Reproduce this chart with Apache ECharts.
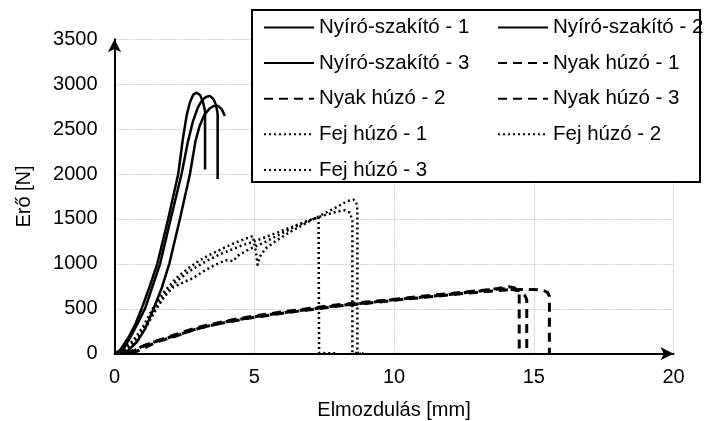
<!DOCTYPE html>
<html>
<head>
<meta charset="utf-8">
<script src="https://cdn.jsdelivr.net/npm/echarts@6/dist/echarts.min.js"></script>
<style>
  html, body { margin: 0; padding: 0; background: #fff; }
  #chart { width: 705px; height: 421px; }
</style>
</head>
<body>
<div id="chart"></div>
<script>
  // tengelyek
  const xTicks = [0, 5, 10, 15, 20];
  const yTicks = [0, 500, 1000, 1500, 2000, 2500, 3000, 3500];

  // Nyíró-szakító [mm, N]
  const nyiro1 = [[0, 0], [0.2, 40], [0.5, 180], [0.75, 330], [0.97, 500], [1.25, 740], [1.53, 1000], [1.92, 1500], [2.28, 2000], [2.45, 2400], [2.58, 2650], [2.7, 2800], [2.82, 2885], [2.94, 2906], [3.06, 2880], [3.16, 2810], [3.22, 2730], [3.24, 2700], [3.24, 2050]];
  const nyiro2 = [[0, 0], [0.3, 40], [0.6, 200], [0.85, 350], [1.09, 500], [1.35, 740], [1.63, 1000], [2.01, 1500], [2.4, 2000], [2.62, 2350], [2.8, 2580], [2.98, 2740], [3.15, 2830], [3.3, 2862], [3.42, 2868], [3.54, 2835], [3.63, 2770], [3.68, 2690], [3.69, 2650], [3.69, 1946]];
  const nyiro3 = [[0.2, 0], [0.5, 40], [0.8, 130], [1.1, 280], [1.4, 500], [1.7, 740], [1.96, 1000], [2.34, 1500], [2.7, 2000], [2.9, 2370], [3.05, 2540], [3.22, 2660], [3.4, 2730], [3.55, 2758], [3.71, 2757], [3.84, 2720], [3.95, 2645]];

  // Nyak húzó
  const nyak1 = [[0.4, 0], [0.7, 40], [1.2, 110], [2.0, 185], [3.0, 280], [4.0, 355], [5.0, 410], [6.0, 455], [7.0, 495], [8.0, 535], [9.0, 565], [10.0, 600], [11.0, 630], [12.0, 660], [13.0, 695], [13.7, 725], [14.1, 745], [14.3, 735], [14.45, 700], [14.48, 660], [14.48, 0]];
  const nyak2 = [[0.5, 0], [0.8, 50], [1.3, 120], [2.0, 195], [3.0, 295], [4.0, 365], [5.0, 420], [6.0, 465], [7.0, 505], [8.0, 545], [9.0, 575], [10.0, 605], [11.0, 640], [12.0, 670], [13.0, 700], [14.0, 725], [14.5, 700], [14.7, 640], [14.75, 600], [14.75, 30]];
  const nyak3 = [[0.6, 0], [0.9, 40], [1.5, 130], [2.2, 195], [3.0, 285], [4.0, 350], [5.0, 405], [6.0, 450], [7.0, 490], [8.0, 530], [9.0, 560], [10.0, 595], [11.0, 625], [12.0, 655], [13.0, 685], [14.0, 710], [14.5, 715], [15.0, 715], [15.35, 705], [15.5, 680], [15.56, 640], [15.56, 0]];

  // Fej húzó
  const fej1 = [[0, 0], [0.4, 40], [0.8, 150], [1.1, 280], [1.5, 500], [1.8, 640], [2.1, 740], [2.5, 800], [2.8, 840], [3.2, 920], [3.6, 990], [4.0, 1040], [4.25, 1030], [4.4, 1090], [4.8, 1160], [5.3, 1230], [5.8, 1310], [6.3, 1390], [6.8, 1460], [7.3, 1525], [7.32, 10], [7.6, 5], [7.9, 5]];
  const fej2 = [[0, 0], [0.3, 30], [0.7, 130], [1.0, 250], [1.4, 470], [1.8, 660], [2.2, 800], [2.6, 900], [3.0, 980], [3.4, 1050], [3.8, 1110], [4.2, 1160], [4.6, 1210], [5.0, 1250], [5.5, 1310], [6.0, 1370], [6.5, 1430], [7.0, 1490], [7.5, 1540], [8.0, 1585], [8.25, 1596], [8.42, 1570], [8.51, 1480], [8.51, 10], [8.8, 5]];
  const fej3 = [[0, 0], [0.3, 40], [0.7, 160], [1.0, 290], [1.4, 520], [1.8, 700], [2.2, 840], [2.6, 940], [3.0, 1030], [3.4, 1100], [3.8, 1160], [4.2, 1220], [4.6, 1270], [4.95, 1310], [5.05, 1150], [5.12, 990], [5.2, 1080], [5.4, 1170], [5.8, 1260], [6.2, 1340], [6.6, 1410], [7.0, 1480], [7.5, 1560], [8.0, 1640], [8.3, 1695], [8.55, 1715], [8.65, 1690], [8.69, 1600], [8.69, 10], [8.9, 5]];

  const font = 'Liberation Sans, Arial, sans-serif';

  function line(name, data, type, width) {
    return {
      name: name,
      type: 'line',
      data: data,
      symbol: 'none',
      smooth: false,
      lineStyle: { color: '#000', width: width, type: type, join: 'round' },
      itemStyle: { color: '#000' }
    };
  }

  const series = [
    line('Nyíró-szakító - 1', nyiro1, 'solid', 2.5),
    line('Nyíró-szakító - 2', nyiro2, 'solid', 2.5),
    line('Nyíró-szakító - 3', nyiro3, 'solid', 2.5),
    line('Nyak húzó - 1', nyak1, [9, 6], 3),
    line('Nyak húzó - 2', nyak2, [9, 6], 3),
    line('Nyak húzó - 3', nyak3, [9, 6], 3),
    line('Fej húzó - 1', fej1, [2, 3], 2.5),
    line('Fej húzó - 2', fej2, [2, 3], 2.5),
    line('Fej húzó - 3', fej3, [2, 3], 2.5)
  ];

  // jelmagyarázat: két oszlop, kör nélkül
  const legendBase = {
    orient: 'vertical',
    top: 17,
    padding: 0,
    itemWidth: 50,
    itemHeight: 14,
    itemGap: 14.6,
    selectedMode: false,
    itemStyle: { color: 'transparent', borderWidth: 0, opacity: 0 },
    textStyle: { color: '#000', fontSize: 20.5, fontFamily: font, lineHeight: 21 }
  };

  const gridLine = { show: true, lineStyle: { color: '#cfcfcf', width: 1, type: [2, 1] } };

  const option = {
    animation: false,
    backgroundColor: '#fff',
    grid: { left: 114.5, right: 31.5, top: 39.3, bottom: 67.3, containLabel: false, outerBoundsMode: 'none' },
    xAxis: {
      type: 'value',
      min: xTicks[0],
      max: xTicks[xTicks.length - 1],
      interval: 5,
      name: 'Elmozdulás [mm]',
      nameLocation: 'middle',
      nameGap: 47,
      nameTextStyle: { color: '#000', fontSize: 20, fontFamily: font },
      axisLine: { show: true, symbol: ['none', 'arrow'], symbolSize: [10, 13], lineStyle: { color: '#000', width: 2 } },
      axisTick: { show: false },
      axisLabel: { color: '#000', fontSize: 20, fontFamily: font, margin: 14 },
      splitLine: gridLine
    },
    yAxis: {
      type: 'value',
      min: yTicks[0],
      max: yTicks[yTicks.length - 1],
      interval: 500,
      name: 'Erő [N]',
      nameLocation: 'middle',
      nameGap: 80,
      nameTextStyle: { color: '#000', fontSize: 20, fontFamily: font },
      axisLine: { show: true, symbol: ['none', 'arrow'], symbolSize: [10, 13], lineStyle: { color: '#000', width: 2 } },
      axisTick: { show: false },
      axisLabel: { color: '#000', fontSize: 20, fontFamily: font, margin: 17, formatter: function (v) { return String(v); } },
      splitLine: gridLine
    },
    legend: [
      Object.assign({}, legendBase, {
        left: 263,
        data: ['Nyíró-szakító - 1', 'Nyíró-szakító - 3', 'Nyak húzó - 2', 'Fej húzó - 1', 'Fej húzó - 3']
      }),
      Object.assign({}, legendBase, {
        left: 497,
        data: ['Nyíró-szakító - 2', 'Nyak húzó - 1', 'Nyak húzó - 3', 'Fej húzó - 2']
      })
    ],
    graphic: [{
      type: 'rect',
      z: 3,
      shape: { x: 252, y: 10, width: 448, height: 172 },
      style: { fill: '#fff', stroke: '#000', lineWidth: 2 }
    }],
    series: series
  };

  const chart = echarts.init(document.getElementById('chart'));
  chart.setOption(option);
</script>
</body>
</html>
